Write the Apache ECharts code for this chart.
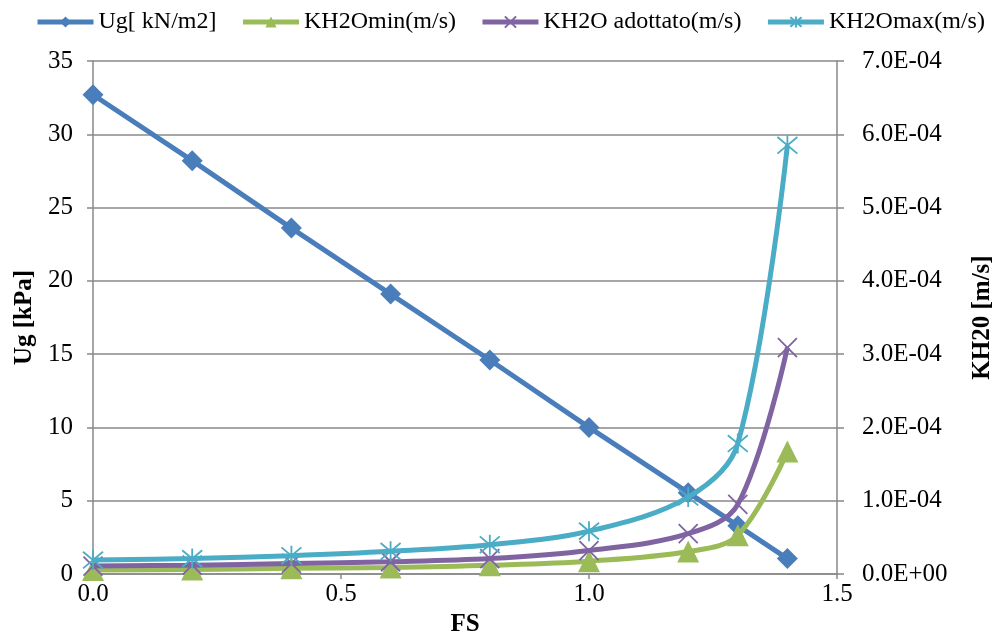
<!DOCTYPE html>
<html><head><meta charset="utf-8">
<script src="https://cdn.jsdelivr.net/npm/echarts@6/dist/echarts.min.js"></script>
<style>html,body{margin:0;padding:0;background:#fff}#c{width:1003px;height:642px}</style>
</head><body><div id="c"></div>
<script>
var fs = [0, 0.2, 0.4, 0.6, 0.8, 1.0, 1.2, 1.3, 1.4];
var ug = [32.7, 28.2, 23.6, 19.1, 14.6, 10.0, 5.55, 3.3, 1.05];
var khMin = [5.4e-6, 6.3e-6, 7.7e-6, 9.0e-6, 1.2e-5, 1.75e-5, 3.06e-5, 5.3e-5, 1.67e-4];
var khAdo = [1.08e-5, 1.2e-5, 1.44e-5, 1.67e-5, 2.1e-5, 3.2e-5, 5.5e-5, 9.5e-5, 3.09e-4];
var khMax = [1.9e-5, 2.1e-5, 2.5e-5, 3.1e-5, 4.0e-5, 5.85e-5, 1.05e-4, 1.78e-4, 5.85e-4];
var names = ['Ug[ kN/m2]', 'KH2Omin(m/s)', 'KH2O adottato(m/s)', 'KH2Omax(m/s)'];

function pairs(ys){ return fs.map(function(x,i){return [x, ys[i]];}); }
function sci(v){
  if (Math.abs(v) < 1e-12) return '0.0E+00';
  var e = Math.floor(Math.log10(Math.abs(v)) + 1e-9);
  var m = v / Math.pow(10, e);
  var es = Math.abs(e) < 10 ? '0' + Math.abs(e) : '' + Math.abs(e);
  return m.toFixed(1) + 'E' + (e < 0 ? '-' : '+') + es;
}
var font = 'Liberation Serif';
var gridColor = '#888888';
var xPath = 'path://M0,0 L10,10 M10,0 L0,10';
var starPath = 'path://M0,0 L10,10 M10,0 L0,10 M5,-1 L5,11';

var chart = echarts.init(document.getElementById('c'), null, {renderer:'canvas'});
chart.setOption({
  animation: false,
  textStyle: {fontFamily: font, color: '#000'},
  legend: {
    top: 5, left: 30, width: 990, itemWidth: 56, itemHeight: 14, itemGap: 24,
    lineStyle: {width: 5},
    textStyle: {fontFamily: font, fontSize: 24, color: '#000'},
    data: names
  },
  grid: {left: 93, right: 162, top: 61, bottom: 61, containLabel: false},
  xAxis: {
    type: 'value', min: 0, max: 1.5, interval: 0.5,
    name: 'FS', nameLocation: 'middle', nameGap: 38,
    nameTextStyle: {fontFamily: font, fontSize: 25, fontWeight: 'bold', color: '#000'},
    axisLine: {show: true, lineStyle: {color: gridColor, width: 1.5}},
    axisTick: {show: true, inside: false, length: 5, lineStyle: {color: gridColor, width: 1.5}},
    axisLabel: {fontFamily: font, fontSize: 25, color: '#000', margin: 8, formatter: function(v){return v.toFixed(1);}},
    splitLine: {show: false}
  },
  yAxis: [{
    type: 'value', min: 0, max: 35, interval: 5, position: 'left',
    name: 'Ug [kPa]', nameLocation: 'middle', nameGap: 56, nameRotate: 90,
    nameTextStyle: {fontFamily: font, fontSize: 25, fontWeight: 'bold', color: '#000'},
    axisLine: {show: true, lineStyle: {color: gridColor, width: 1.5}},
    axisTick: {show: true, length: 6, lineStyle: {color: gridColor, width: 1.5}},
    axisLabel: {fontFamily: font, fontSize: 25, color: '#000', margin: 20},
    splitLine: {show: true, lineStyle: {color: gridColor, width: 1.5}}
  }, {
    type: 'value', min: 0, max: 7e-4, interval: 1e-4, position: 'right',
    name: 'KH20 [m/s]', nameLocation: 'middle', nameGap: 133, nameRotate: 90,
    nameTextStyle: {fontFamily: font, fontSize: 25, fontWeight: 'bold', color: '#000'},
    axisLine: {show: true, lineStyle: {color: gridColor, width: 1.5}},
    axisTick: {show: true, length: 7, lineStyle: {color: gridColor, width: 1.5}},
    axisLabel: {fontFamily: font, fontSize: 25, color: '#000', margin: 25, formatter: sci},
    splitLine: {show: false}
  }],
  series: [{
    name: names[0], type: 'line', yAxisIndex: 0, data: pairs(ug),
    symbol: 'diamond', symbolSize: 21,
    lineStyle: {color: '#4A7EBB', width: 5},
    itemStyle: {color: '#4A7EBB'}, z: 2
  }, {
    name: names[1], type: 'line', yAxisIndex: 1, data: pairs(khMin), smooth: 0.35,
    symbol: 'triangle', symbolSize: 22,
    lineStyle: {color: '#9BBB59', width: 5},
    itemStyle: {color: '#9BBB59'}, z: 3
  }, {
    name: names[2], type: 'line', yAxisIndex: 1, data: pairs(khAdo), smooth: 0.35,
    symbol: xPath, symbolSize: 19,
    lineStyle: {color: '#8064A2', width: 5},
    itemStyle: {color: 'none', borderColor: '#8064A2', borderWidth: 1.8}, z: 4
  }, {
    name: names[3], type: 'line', yAxisIndex: 1, data: pairs(khMax), smooth: 0.35,
    symbol: starPath, symbolSize: 20,
    lineStyle: {color: '#4BACC6', width: 5},
    itemStyle: {color: 'none', borderColor: '#4BACC6', borderWidth: 1.8}, z: 5
  }]
});
</script>
</body></html>
